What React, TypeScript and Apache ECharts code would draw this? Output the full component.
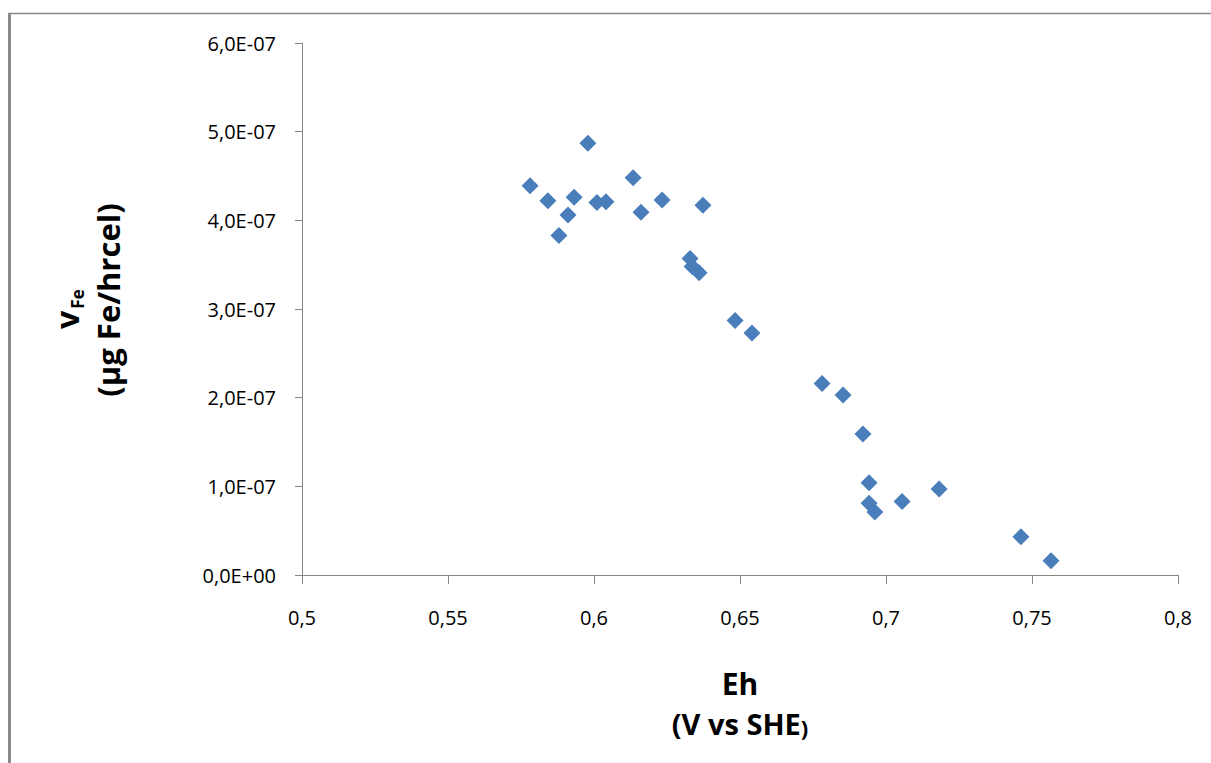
import React, { useEffect, useRef } from "react";
import * as echarts from "echarts";

const ehValues = [0.5781, 0.5842, 0.588, 0.5911, 0.5932, 0.5979, 0.601, 0.6041, 0.6134, 0.6161, 0.6233, 0.6373, 0.6329, 0.6336, 0.636, 0.6483, 0.6541, 0.6781, 0.6853, 0.6921, 0.6942, 0.6942, 0.6962, 0.7055, 0.7182, 0.7462, 0.7565];
const vFeValues = [4.39e-7, 4.22e-7, 3.83e-7, 4.06e-7, 4.26e-7, 4.87e-7, 4.2e-7, 4.21e-7, 4.48e-7, 4.09e-7, 4.23e-7, 4.17e-7, 3.57e-7, 3.48e-7, 3.41e-7, 2.87e-7, 2.73e-7, 2.16e-7, 2.03e-7, 1.59e-7, 1.04e-7, 0.81e-7, 0.71e-7, 0.83e-7, 0.97e-7, 0.43e-7, 0.16e-7];
const xTickLabels = ["0,5", "0,55", "0,6", "0,65", "0,7", "0,75", "0,8"];
const yTickLabels = ["0,0E+00", "1,0E-07", "2,0E-07", "3,0E-07", "4,0E-07", "5,0E-07", "6,0E-07"];
const xTitle = ["Eh", "(V vs SHE", ")"];
const yTitle = ["v", "Fe", "(µg Fe/hrcel)"];

const FONT = "'Open Sans', 'Noto Sans', sans-serif";

export default function App() {
  const ref = useRef<HTMLDivElement>(null);
  useEffect(() => {
    document.body.style.margin = "0";
    const chart = echarts.init(ref.current!, null, { renderer: "svg" });
    const data = ehValues.map((x, i) => [x, vFeValues[i]]);
    chart.setOption({
      animation: false,
      backgroundColor: "#ffffff",
      grid: { left: 302, top: 43, right: 33, bottom: 188, containLabel: false },
      xAxis: {
        type: "value",
        min: 0.5,
        max: 0.8,
        interval: 0.05,
        splitLine: { show: false },
        axisLine: { show: true, lineStyle: { color: "#868686", width: 1 } },
        axisTick: { show: true, inside: false, length: 9, lineStyle: { color: "#868686" } },
        axisLabel: {
          margin: 32,
          color: "#000",
          fontFamily: FONT,
          fontSize: 20,
          formatter: (v: number) => xTickLabels[Math.round((v - 0.5) / 0.05)] ?? "",
        },
      },
      yAxis: {
        type: "value",
        min: 0,
        max: 6e-7,
        interval: 1e-7,
        splitLine: { show: false },
        axisLine: { show: true, lineStyle: { color: "#868686", width: 1 } },
        axisTick: { show: true, inside: false, length: 7, lineStyle: { color: "#868686" } },
        axisLabel: {
          margin: 26,
          color: "#000",
          fontFamily: FONT,
          fontSize: 20,
          formatter: (v: number) => yTickLabels[Math.round(v / 1e-7)] ?? "",
        },
      },
      series: [
        {
          type: "scatter",
          data,
          symbol: "diamond",
          symbolSize: 17,
          itemStyle: { color: "#4A7EBB", opacity: 1 },
        },
      ],
      graphic: [
        { type: "line", shape: { x1: 8, y1: 13.5, x2: 1211, y2: 13.5 }, style: { stroke: "#8a8a8a", lineWidth: 1.5 } },
        { type: "line", shape: { x1: 9.5, y1: 13, x2: 9.5, y2: 763 }, style: { stroke: "#8a8a8a", lineWidth: 3 } },
        {
          type: "text",
          x: 740,
          y: 683,
          style: { text: xTitle[0], font: `bold 30px ${FONT}`, fill: "#000", align: "center", verticalAlign: "middle" },
        },
        {
          type: "text",
          x: 740,
          y: 723,
          style: {
            text: `{a|${xTitle[1]}}{b|${xTitle[2]}}`,
            align: "center",
            verticalAlign: "middle",
            rich: {
              a: { font: `bold 29px ${FONT}`, fill: "#000", verticalAlign: "bottom" },
              b: { font: `bold 22px ${FONT}`, fill: "#000", verticalAlign: "bottom" },
            },
          },
        },
        {
          type: "text",
          x: 66,
          y: 320,
          rotation: Math.PI / 2,
          style: { text: yTitle[0], font: `bold 32px ${FONT}`, fill: "#000", align: "center", verticalAlign: "middle" },
        },
        {
          type: "text",
          x: 77,
          y: 299,
          rotation: Math.PI / 2,
          style: { text: yTitle[1], font: `bold 17px ${FONT}`, fill: "#000", align: "center", verticalAlign: "middle" },
        },
        {
          type: "text",
          x: 108,
          y: 300,
          rotation: Math.PI / 2,
          style: { text: yTitle[2], font: `bold 31px ${FONT}`, fill: "#000", align: "center", verticalAlign: "middle" },
        },
      ],
    });
    return () => chart.dispose();
  }, []);
  return <div ref={ref} style={{ position: "absolute", left: 0, top: 0, width: 1211, height: 763 }} />;
}
